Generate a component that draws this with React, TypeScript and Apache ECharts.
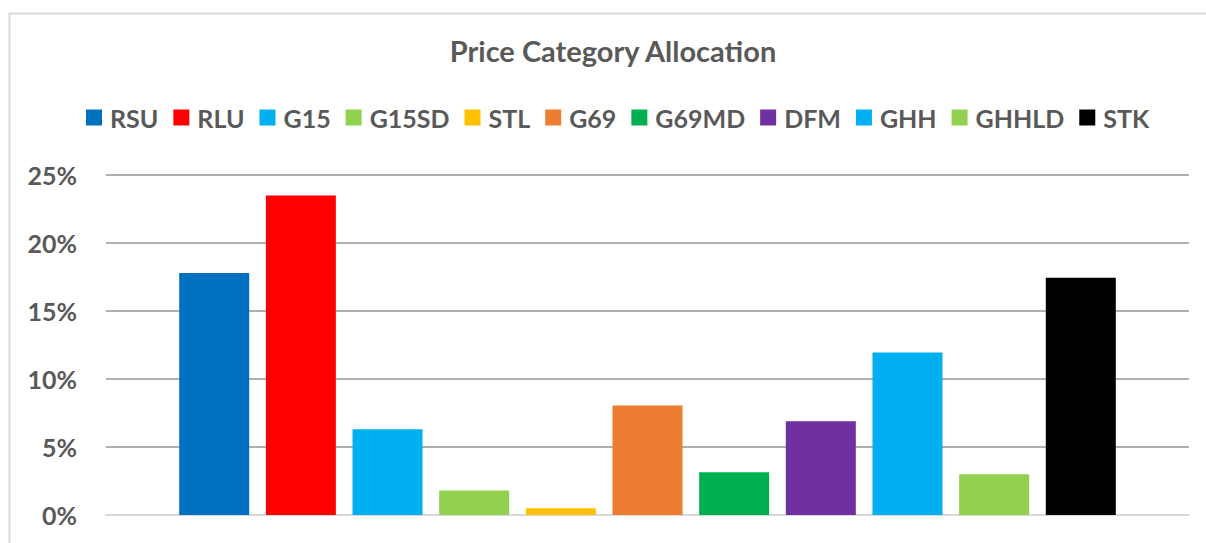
import React, { useEffect, useRef } from "react";
import * as echarts from "echarts";

const seriesNames = ["RSU", "RLU", "G15", "G15SD", "STL", "G69", "G69MD", "DFM", "GHH", "GHHLD", "STK"];
const seriesValues = [17.8, 23.5, 6.3, 1.8, 0.5, 8.05, 3.15, 6.9, 11.95, 3.0, 17.45];
const seriesColors = ["#0070C0", "#FF0000", "#00B0F0", "#92D050", "#FFC000", "#ED7D31", "#00B050", "#7030A0", "#00B0F0", "#92D050", "#000000"];
const categories = [""];
const yTicks = { min: 0, max: 25, interval: 5 };

const FONT = "Lato, 'Open Sans', sans-serif";
const GRAY = "#595959";

export default function App() {
  const ref = useRef<HTMLDivElement>(null);
  useEffect(() => {
    if (!ref.current) return;
    const chart = echarts.init(ref.current, undefined, { renderer: "svg" });
    chart.setOption({
      animation: false,
      backgroundColor: "#ffffff",
      title: {
        text: "Price Category Allocation",
        left: 608,
        textAlign: "center",
        top: 31,
        textStyle: { fontFamily: FONT, fontWeight: "bold", fontSize: 29, color: GRAY },
      },
      legend: {
        data: seriesNames,
        left: 81,
        top: 100,
        itemWidth: 16,
        itemHeight: 16,
        itemGap: 15,
        icon: "rect",
        textStyle: { fontFamily: FONT, fontWeight: "bold", fontSize: 25, color: GRAY, padding: [0, 0, 0, 3] },
      },
      graphic: [
        {
          type: "rect",
          shape: { x: 9.5, y: 13.5, width: 1300, height: 700 },
          style: { fill: "none", stroke: "#d9d9d9", lineWidth: 2 },
          silent: true,
        },
      ],
      grid: { left: 106, right: 17, top: 175, bottom: 28, containLabel: false },
      xAxis: {
        type: "category",
        data: categories,
        axisLine: { show: true, lineStyle: { color: "#d9d9d9", width: 2 } },
        axisTick: { show: false },
        axisLabel: { show: false },
      },
      yAxis: {
        type: "value",
        min: yTicks.min,
        max: yTicks.max,
        interval: yTicks.interval,
        axisLine: { show: false },
        axisTick: { show: false },
        axisLabel: {
          formatter: "{value}%",
          margin: 29,
          fontFamily: FONT,
          fontWeight: "bold",
          fontSize: 25,
          color: GRAY,
        },
        splitLine: { lineStyle: { color: "#b0b0b0", width: 2 } },
      },
      series: seriesNames.map((name, i) => ({
        name,
        type: "bar",
        data: [seriesValues[i]],
        barWidth: 70,
        barGap: "23.8%",
        itemStyle: { color: seriesColors[i] },
      })),
    });
    return () => chart.dispose();
  }, []);
  return <div ref={ref} style={{ width: 1206, height: 543, position: "absolute", left: 0, top: 0 }} />;
}
